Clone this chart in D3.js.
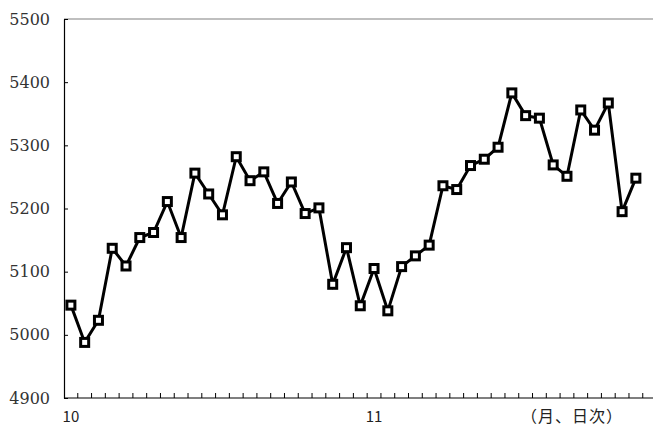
<!DOCTYPE html>
<html>
<head>
<meta charset="utf-8">
<script src="https://cdn.jsdelivr.net/npm/d3@7"></script>
<style>
  html, body { margin: 0; padding: 0; background: #fff; }
  svg { display: block; }
</style>
</head>
<body>
<svg id="chart" width="653" height="427"></svg>
<script>
// Daily closing values, October to November
const days = d3.range(1, 43);
const values = [5047, 4988, 5023, 5137, 5109, 5154, 5162, 5211, 5154, 5256,
                5223, 5190, 5282, 5244, 5258, 5208, 5242, 5192, 5201, 5080,
                5138, 5046, 5105, 5038, 5108, 5125, 5142, 5236, 5230, 5268,
                5278, 5297, 5383, 5347, 5343, 5269, 5251, 5356, 5324, 5367,
                5195, 5248];
// Month labels placed on the first trading day of each month
const monthLabels = { 1: "10", 23: "11" };
const yTicks = [4900, 5000, 5100, 5200, 5300, 5400, 5500];
const unitLabel = "（月、日次）";

(function draw() {
  const W = 653;
  const plotLeft = 64, plotTop = 19, plotBottom = 398;
  const step = 13.78;

  const svg = d3.select("#chart");

  const x = d3.scaleBand()
    .domain(days)
    .range([plotLeft, plotLeft + step * days.length])
    .padding(0);

  const y = d3.scaleLinear()
    .domain([4900, 5500])
    .range([plotBottom, plotTop]);

  // Top frame line
  svg.append("line")
    .attr("x1", plotLeft).attr("x2", W)
    .attr("y1", plotTop).attr("y2", plotTop)
    .attr("stroke", "#808080").attr("stroke-width", 1.2);

  // Left value axis, ticks pointing into the plot
  const yAxis = svg.append("g")
    .attr("transform", `translate(${plotLeft},0)`)
    .call(d3.axisLeft(y).tickValues(yTicks).tickFormat(d3.format("d"))
      .tickSizeInner(-4).tickSizeOuter(0).tickPadding(14));
  yAxis.attr("font-family", null).attr("font-size", null);
  yAxis.select(".domain").attr("stroke", "#000").attr("stroke-width", 1.2);
  yAxis.selectAll(".tick line").attr("stroke", "#000").attr("stroke-width", 1);
  yAxis.selectAll("text")
    .style("font-family", "'DejaVu Serif', serif")
    .style("font-size", "16px")
    .attr("fill", "#333");

  // Bottom category axis: baseline
  svg.append("line")
    .attr("x1", plotLeft).attr("x2", W)
    .attr("y1", plotBottom).attr("y2", plotBottom)
    .attr("stroke", "#000").attr("stroke-width", 1.2);

  // Tick marks on category boundaries
  svg.append("g")
    .selectAll("line")
    .data(days)
    .join("line")
    .attr("x1", d => x(d) + x.bandwidth())
    .attr("x2", d => x(d) + x.bandwidth())
    .attr("y1", plotBottom)
    .attr("y2", plotBottom - 5)
    .attr("stroke", "#000").attr("stroke-width", 1);

  // Month labels under the category centres
  const xAxis = svg.append("g")
    .attr("transform", `translate(0,${plotBottom})`)
    .call(d3.axisBottom(x).tickSize(0).tickPadding(13)
      .tickFormat(d => monthLabels[d] || ""));
  xAxis.attr("font-family", null).attr("font-size", null);
  xAxis.select(".domain").remove();
  xAxis.selectAll("text")
    .style("font-family", "'Noto Sans CJK JP', sans-serif")
    .style("font-size", "15px")
    .attr("fill", "#222");

  // Unit label
  svg.append("text")
    .attr("x", 572)
    .attr("y", 422)
    .attr("text-anchor", "middle")
    .style("font-family", "'Noto Sans CJK JP', sans-serif")
    .style("font-size", "16px")
    .style("letter-spacing", "1px")
    .attr("fill", "#222")
    .text(unitLabel);

  // Series line
  const line = d3.line()
    .x((d, i) => x(days[i]) + x.bandwidth() / 2)
    .y(d => y(d));

  svg.append("path")
    .datum(values)
    .attr("d", line)
    .attr("fill", "none")
    .attr("stroke", "#000")
    .attr("stroke-width", 3)
    .attr("stroke-linejoin", "miter");

  // Square markers
  const m = 8;
  svg.append("g")
    .selectAll("rect")
    .data(values)
    .join("rect")
    .attr("x", (d, i) => x(days[i]) + x.bandwidth() / 2 - m / 2)
    .attr("y", d => y(d) - m / 2)
    .attr("width", m)
    .attr("height", m)
    .attr("fill", "#fff")
    .attr("stroke", "#000")
    .attr("stroke-width", 3);
})();
</script>
</body>
</html>
